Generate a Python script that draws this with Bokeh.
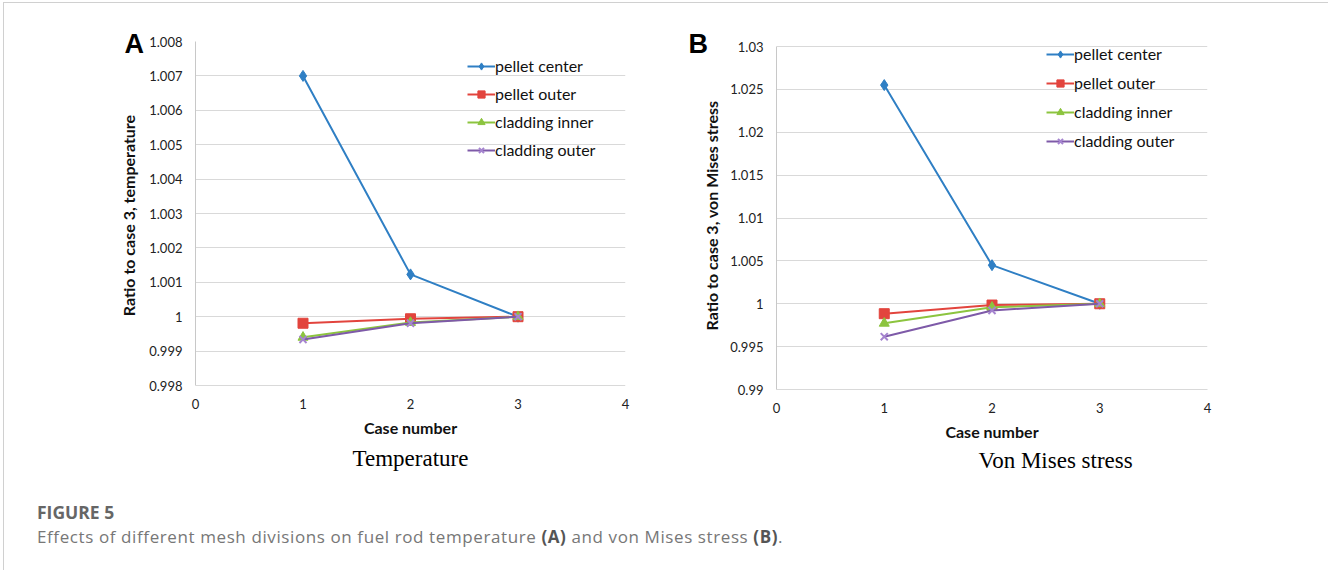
from bokeh.plotting import figure
from bokeh.models import (Legend, LegendItem, Title, FixedTicker, Range1d,
                          CustomJSTickFormatter, Div)
from bokeh.layouts import row, column
from bokeh.embed import file_html
from bokeh.resources import INLINE

# ---------------- data ----------------
cases = [1, 2, 3]
series_names = ["pellet center", "pellet outer", "cladding inner", "cladding outer"]

temp_pellet_center = [1.0070, 1.00123, 1.0000]
temp_pellet_outer = [0.99981, 0.99994, 1.0000]
temp_cladding_inner = [0.99940, 0.99983, 1.0000]
temp_cladding_outer = [0.99934, 0.99981, 1.0000]

stress_pellet_center = [1.0255, 1.0045, 1.0000]
stress_pellet_outer = [0.99884, 0.99985, 1.0000]
stress_cladding_inner = [0.99772, 0.99958, 1.0000]
stress_cladding_outer = [0.99616, 0.99922, 1.0000]

x_ticks = [0, 1, 2, 3, 4]
temp_y_ticks = [0.998, 0.999, 1.000, 1.001, 1.002, 1.003, 1.004, 1.005, 1.006, 1.007, 1.008]
stress_y_ticks = [0.990, 0.995, 1.000, 1.005, 1.010, 1.015, 1.020, 1.025, 1.030]

colors = ["#2f7fc4", "#e2443d", "#8cc43f", "#7e5aa8"]
marker_colors = ["#2f7fc4", "#e2443d", "#8cc43f", "#a584cf"]
markers = ["diamond", "square", "triangle", "x"]
marker_sizes = [11, 10, 10, 10]

TICK_FONT = "Lato"
FRAME_H = 348  # shared frame height (px) of both panels


def make_panel(width, yticks, pad_top, pad_bottom, series, ylabel, subtitle,
               letter, left, right, legend_loc, legend_spacing, sub_align,
               sub_offset, sub_standoff, tick_standoff, letter_offset,
               show_xline, ylabel_standoff):
    lo, hi = yticks[0], yticks[-1]
    span = hi - lo
    inner = FRAME_H - pad_top - pad_bottom
    y0 = lo - span * pad_bottom / inner
    y1 = hi + span * pad_top / inner
    p = figure(width=width, height=477, x_range=(0, 4),
               y_range=Range1d(y0, y1), title=None,
               output_backend="svg", toolbar_location=None,
               min_border_left=left, min_border_right=right,
               min_border_top=38, min_border_bottom=477 - 38 - FRAME_H)
    p.outline_line_color = None
    p.xgrid.grid_line_color = None
    p.ygrid.grid_line_color = "#d9d9d9"
    p.ygrid.grid_line_width = 1

    p.xaxis.ticker = FixedTicker(ticks=x_ticks)
    p.yaxis.ticker = FixedTicker(ticks=yticks)
    p.yaxis.bounds = (lo, hi)
    p.yaxis.formatter = CustomJSTickFormatter(
        code="return Number(tick.toFixed(4)).toString();")
    for ax in (p.xaxis, p.yaxis):
        ax.major_tick_line_color = None
        ax.minor_tick_line_color = None
        ax.major_tick_out = 0
        ax.major_tick_in = 0
        ax.minor_tick_out = 0
        ax.minor_tick_in = 0
        ax.axis_line_color = "#c8c8c8"
        ax.major_label_text_font = TICK_FONT
        ax.major_label_text_font_size = "13px"
        ax.major_label_text_color = "#222222"
        ax.axis_label_text_font = TICK_FONT
        ax.axis_label_text_font_size = "16px"
        ax.axis_label_text_font_style = "bold"
        ax.axis_label_text_color = "#111111"
    p.xaxis.axis_line_color = "#d9d9d9" if show_xline else None
    p.xaxis.axis_label = "Case number"
    p.yaxis.axis_label = ylabel
    p.xaxis.major_label_standoff = tick_standoff
    p.yaxis.major_label_standoff = 13
    p.xaxis.axis_label_standoff = 6
    p.yaxis.axis_label_standoff = ylabel_standoff

    items = []
    for name, ys, c, mc, m, s in zip(series_names, series, colors,
                                     marker_colors, markers, marker_sizes):
        ln = p.line(cases, ys, line_color=c, line_width=2)
        sc = p.scatter(cases, ys, marker=m, size=s, fill_color=mc,
                       line_color=mc, line_width=2 if m == "x" else 1)
        items.append(LegendItem(label=name, renderers=[ln, sc]))

    legend = Legend(items=items, location=legend_loc)
    legend.border_line_color = None
    legend.background_fill_alpha = 0
    legend.padding = 0
    legend.margin = 0
    legend.spacing = legend_spacing
    legend.label_height = 18
    legend.glyph_height = 18
    legend.glyph_width = 28
    legend.label_standoff = 0
    legend.label_text_font = TICK_FONT
    legend.label_text_font_size = "16px"
    legend.label_text_color = "#111111"
    p.add_layout(legend)

    t = Title(text=subtitle, align=sub_align, text_font="Liberation Serif",
              text_font_size="23px", text_font_style="normal",
              text_color="#000000", offset=sub_offset, standoff=sub_standoff)
    p.add_layout(t, "below")

    lt = Title(text=letter, align="left", offset=letter_offset,
               standoff=-35, vertical_align="bottom",
               text_font="Liberation Sans", text_font_size="27px",
               text_font_style="bold", text_color="#000000")
    p.add_layout(lt, "above")
    return p


pA = make_panel(661, temp_y_ticks, 0, 4,
                [temp_pellet_center, temp_pellet_outer,
                 temp_cladding_inner, temp_cladding_outer],
                "Ratio to case 3, temperature", "Temperature", "A",
                191, 40, (272, 230), 9, "center", 0, 9, 9, -71, False, 8)

pB = make_panel(663, stress_y_ticks, 5, 0,
                [stress_pellet_center, stress_pellet_outer,
                 stress_cladding_inner, stress_cladding_outer],
                "Ratio to case 3, von Mises stress", "Von Mises stress", "B",
                111, 121, (270, 239), 10, "left", 202, 4, 13, -88, True, 6)

caption = Div(
    text=(
        "<div style=\"font-family:'Open Sans';color:#777777;padding-left:33px;\">"
        "<div style=\"font-size:17.5px;font-weight:bold;color:#666666;"
        "line-height:22px;padding-top:21px;\">FIGURE 5</div>"
        "<div style=\"font-size:17px;letter-spacing:0.6px;line-height:22px;"
        "padding-top:3px;\">"
        "Effects of different mesh divisions on fuel rod temperature "
        "<b style=\"color:#555555\">(A)</b> and von Mises stress "
        "<b style=\"color:#555555\">(B)</b>.</div></div>"
    ),
    width=1324, height=90, margin=0)

layout = column(row(pA, pB, spacing=0), caption, spacing=0,
                margin=(2, 0, 0, 3),
                styles={"border-left": "1px solid #d0d0d0",
                        "border-top": "1px solid #d0d0d0"})

open("out.html", "w").write(file_html(layout, INLINE))
